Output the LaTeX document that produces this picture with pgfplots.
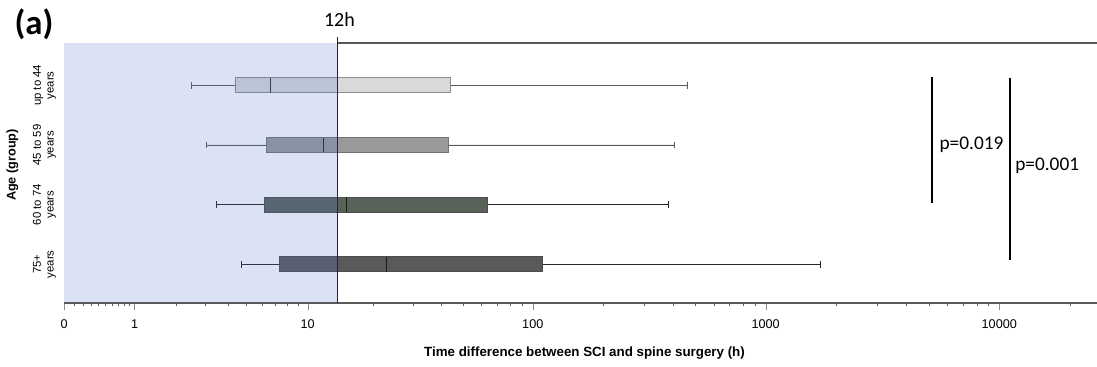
\documentclass[border=0pt]{standalone}
\usepackage{fontspec}
\setmainfont{Liberation Sans}
\newfontfamily\calibri{Carlito}
\usepackage{pgfplots}
\pgfplotsset{compat=1.18}
\usepgfplotslibrary{statistics}

\definecolor{tint}{RGB}{80,120,200}
\definecolor{boxA}{RGB}{217,217,217}
\definecolor{boxB}{RGB}{153,153,153}
\definecolor{boxC}{RGB}{89,98,89}
\definecolor{boxD}{RGB}{89,89,89}
\definecolor{axisgray}{RGB}{90,90,90}

\begin{document}
\begin{tikzpicture}
\useasboundingbox (-48.2pt,-47.25pt) rectangle (774.5pt,227.25pt);
\begin{axis}[
  scale only axis, width=774.5pt, height=195pt,
  at={(0,0)}, anchor=south west,
  clip=false,
  % hours are shown on a log10(h+1) scale
  x coord trafo/.code={%
    \begingroup
    \pgfkeys{/pgf/fpu=true,/pgf/fpu/output format=fixed}%
    \pgfmathparse{ln(#1+1)/ln(10)}%
    \global\let\hrsTrafoResult\pgfmathresult
    \endgroup
    \let\pgfmathresult\hrsTrafoResult},
  xmin=0, xmax=26180,
  ymin=0.35, ymax=4.71,
  axis line style={draw=none},
  xtick={0,1,10,100,1000,10000},
  xticklabels={0,1,10,100,1000,10000},
  minor xtick={0.1,0.2,0.3,0.4,0.5,0.6,0.7,0.8,0.9,
    2,3,4,5,6,7,8,9,20,30,40,50,60,70,80,90,
    200,300,400,500,600,700,800,900,
    2000,3000,4000,5000,6000,7000,8000,9000,20000},
  xtick pos=left, tick align=outside,
  major tick length=5pt, minor tick length=2.5pt,
  x tick style={black!45},
  minor x tick style={axisgray},
  xticklabel style={font=\fontsize{9.5}{11}\selectfont, yshift=-4pt},
  /pgf/number format/assume math mode=true,
  ytick={1,2,3,4},
  yticklabels={{75+\\years},{60 to 74\\years},{45 to 59\\years},{up to 44\\years}},
  y tick style={draw=none},
  yticklabel style={rotate=90, align=center, anchor=south,
    font=\fontsize{8.5}{9.5}\selectfont, inner sep=1pt},
  boxplot/draw direction=x,
]
% up to 44 years
\addplot[draw=black!45, fill=boxA, line width=0.6pt,
  boxplot/every median/.style={draw=black!80},
  boxplot/every whisker/.style={draw=black!65},
  boxplot prepared={draw position=4, lower whisker=2.51, lower quartile=4.39,
    median=6.61, upper quartile=43.7, upper whisker=460,
    box extend=0.25, whisker extend=0.11}] coordinates {};
% 45 to 59 years
\addplot[draw=black!55, fill=boxB, line width=0.6pt,
  boxplot/every median/.style={draw=black!85},
  boxplot/every whisker/.style={draw=black!65},
  boxplot prepared={draw position=3, lower whisker=3.07, lower quartile=6.31,
    median=11.8, upper quartile=43.2, upper whisker=405,
    box extend=0.25, whisker extend=0.11}] coordinates {};
% 60 to 74 years
\addplot[draw=black!70, fill=boxC, line width=0.7pt,
  boxplot/every median/.style={draw=black!90},
  boxplot/every whisker/.style={draw=black!85, line width=0.9pt},
  boxplot prepared={draw position=2, lower whisker=3.49, lower quartile=6.15,
    median=15.1, upper quartile=63.5, upper whisker=384,
    box extend=0.25, whisker extend=0.11}] coordinates {};
% 75+ years
\addplot[draw=black!70, fill=boxD, line width=0.7pt,
  boxplot/every median/.style={draw=black!90},
  boxplot/every whisker/.style={draw=black!85, line width=0.8pt},
  boxplot prepared={draw position=1, lower whisker=4.74, lower quartile=7.29,
    median=22.8, upper quartile=109.9, upper whisker=1721,
    box extend=0.25, whisker extend=0.11}] coordinates {};

% first 12 hours, tinted
\fill[tint, fill opacity=0.21] (axis cs:0,0.35) rectangle (axis cs:13.7,4.71);
% frame lines
\draw[axisgray, line width=0.8pt] (axis cs:0,0.35) -- (axis cs:26180,0.35);
\draw[axisgray, line width=0.8pt] (axis cs:13.7,4.71) -- (axis cs:26180,4.71);
% 12 h marker
\draw[black!85, line width=0.9pt] (axis cs:13.7,0.35) -- ([yshift=4.5pt]axis cs:13.7,4.71);
\end{axis}

\node[font=\calibri\bfseries\fontsize{26}{30}\selectfont] at (-22.7pt,209.25pt) {(a)};
\node[font=\calibri\fontsize{15}{18}\selectfont] at (206.4pt,212.25pt) {12h};
\node[font=\bfseries\fontsize{10}{12}\selectfont] at (390.15pt,-37.5pt)
  {Time difference between SCI and spine surgery (h)};
\node[rotate=90, font=\bfseries\fontsize{9.5}{11}\selectfont] at (-39pt,103.5pt) {Age (group)};

% group comparisons
\draw[line width=1.5pt] (650.5pt,169.3pt) -- (650.5pt,75.2pt);
\draw[line width=1.5pt] (709pt,168.5pt) -- (709pt,32.25pt);
\node[anchor=west, inner sep=0pt, font=\calibri\fontsize{14.5}{17}\selectfont] at (656.25pt,118.5pt) {p=0.019};
\node[anchor=west, inner sep=0pt, font=\calibri\fontsize{14.5}{17}\selectfont] at (713pt,102.75pt) {p=0.001};
\end{tikzpicture}
\end{document}
